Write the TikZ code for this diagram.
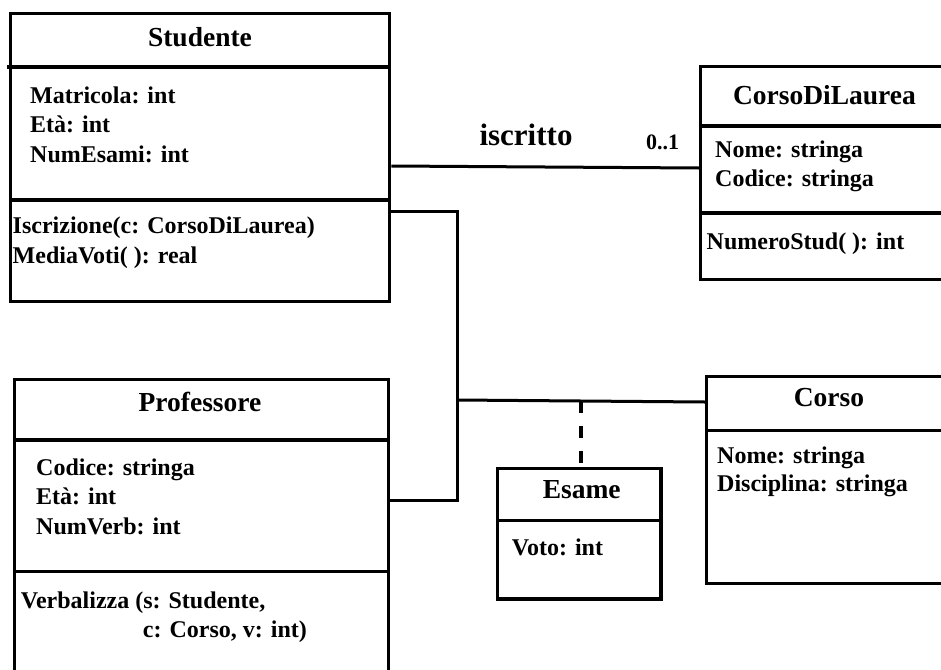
\documentclass[tikz,border=0pt]{standalone}
\usepackage{fontspec}
\setmainfont{Liberation Serif}
\newcommand\clshead{\fontsize{27.5}{33}\selectfont\bfseries}
\newcommand\clsbody{\fontsize{24}{29}\selectfont\bfseries}
\newcommand\asslabel{\fontsize{31}{36}\selectfont\bfseries}
\newcommand\multlabel{\fontsize{22}{26}\selectfont\bfseries}
\tikzset{
  cls/.style={draw, line width=3.4pt, rectangle, inner sep=0pt, anchor=north west},
  divline/.style={line width=3.4pt},
  hdr/.style={font=\clshead, inner sep=0pt, anchor=base},
  txt/.style={font=\clsbody, inner sep=0pt, anchor=base west},
  conn/.style={line width=3pt, line join=miter},
  assoc/.style={line width=3.6pt, dash pattern=on 12pt off 13pt},
}
\begin{document}
\begin{tikzpicture}[x=1pt, y=-1pt]
\useasboundingbox (0,0) rectangle (941,669);

% ---------- Studente ----------
\node[cls, minimum width=379pt, minimum height=288pt] (stud) at (9,12) {};
\draw[divline] (7,67) -- (388,67);
\draw[divline] (9,200) -- (388,200);
\node[hdr] (studH) at (200,46) {Studente};
\node[txt] (studA1) at (30,103) {Matricola: int};
\node[txt] (studA2) at (30,132) {Età: int};
\node[txt] (studA3) at (30,162) {NumEsami: int};
\node[txt] (studM1) at (12.5,233) {Iscrizione(c: CorsoDiLaurea)};
\node[txt] (studM2) at (12.5,263.5) {MediaVoti( ): real};

% ---------- CorsoDiLaurea ----------
\node[cls, minimum width=262pt, minimum height=213pt] (cdl) at (699,65) {};
\draw[divline] (699,126) -- (961,126);
\draw[divline] (699,213) -- (961,213);
\node[hdr] (cdlH) at (824.5,104) {CorsoDiLaurea};
\node[txt] (cdlA1) at (715,157) {Nome: stringa};
\node[txt] (cdlA2) at (715,186.7) {Codice: stringa};
\node[txt] (cdlM1) at (706.5,249) {NumeroStud( ): int};

% ---------- Professore ----------
\node[cls, minimum width=374pt, minimum height=340pt] (prof) at (12.7,378) {};
\draw[divline] (14,440) -- (386.7,440);
\draw[divline] (12.7,571.7) -- (386.7,571.7);
\node[hdr] (profH) at (200,411.7) {Professore};
\node[txt] (profA1) at (36,475) {Codice: stringa};
\node[txt] (profA2) at (36,504) {Età: int};
\node[txt] (profA3) at (36,534) {NumVerb: int};
\node[txt] (profM1) at (20.7,608) {Verbalizza (s: Studente,};
\node[txt] (profM2) at (142.7,637.7) {c: Corso, v: int)};

% ---------- Corso ----------
\node[cls, minimum width=262pt, minimum height=206.7pt] (corso) at (705,375) {};
\draw[divline] (705,430.7) -- (967,430.7);
\node[hdr] (corsoH) at (829,406) {Corso};
\node[txt] (corsoA1) at (717,463) {Nome: stringa};
\node[txt] (corsoA2) at (717,491.7) {Disciplina: stringa};

% ---------- Esame ----------
\node[cls, minimum width=163.3pt, minimum height=130.6pt] (esame) at (496,466.7) {};
\draw[divline] (496,520.7) -- (659.3,520.7);
\node[hdr] (esameH) at (581.7,498) {Esame};
\node[txt] (esameA1) at (511.7,555) {Voto: int};

% ---------- connectors ----------
\draw[conn] (stud.east |- 0,166) -- (cdl.west |- 0,168);
\node[font=\asslabel, inner sep=0pt, anchor=base] (iscr) at (526,145) {iscritto};
\node[font=\multlabel, inner sep=0pt, anchor=base] (mult) at (662.7,149.3) {0..1};

\coordinate (j1) at (457,211);
\coordinate (j2) at (457,500);
\coordinate (j3) at (457,400);
\coordinate (j4) at (581,401);
\draw[conn] (stud.east |- j1) -- (j1) -- (j2) -- (prof.east |- j2);
\draw[conn] (j3) -- (corso.west |- 0,402);
\draw[assoc] (j4) -- (esame.north -| j4);
\end{tikzpicture}
\end{document}
